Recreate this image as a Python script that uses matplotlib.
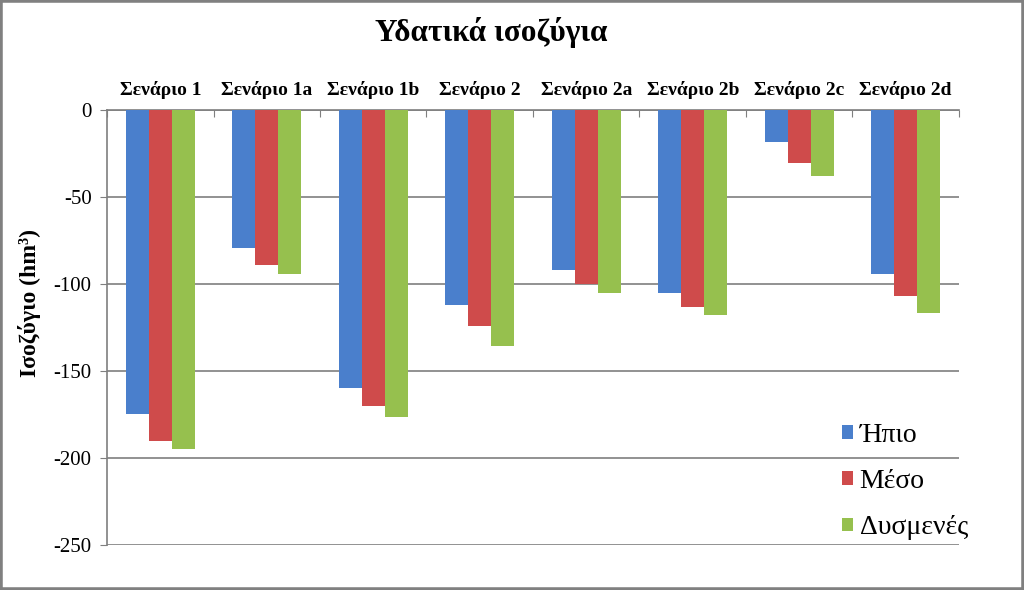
import numpy as np
import matplotlib
matplotlib.use("Agg")
from matplotlib import pyplot as plt
from matplotlib.patches import Rectangle

# data
scenarios = ["Σενάριο 1", "Σενάριο 1a", "Σενάριο 1b", "Σενάριο 2",
             "Σενάριο 2a", "Σενάριο 2b", "Σενάριο 2c", "Σενάριο 2d"]
hpio = [-175, -79.5, -160, -112, -92, -105, -18.5, -94]
meso = [-190, -89, -170, -124, -100, -113.5, -30.5, -107]
dysmenes = [-195, -94, -176.5, -135.5, -105, -118, -38, -116.5]
series_names = ["Ήπιο", "Μέσο", "Δυσμενές"]
yticks = [0, -50, -100, -150, -200, -250]

plt.rcParams["font.family"] = ["Liberation Serif", "DejaVu Serif"]

fig = plt.figure(figsize=(10.24, 5.9), dpi=100)
ax = fig.add_axes([0.1045, 0.0763, 0.832, 0.7373])

x = np.arange(len(scenarios))
w = 0.217
colors = ["#4a7fcc", "#cf4b4b", "#96c04e"]
for i, vals in enumerate([hpio, meso, dysmenes]):
    ax.bar(x + (i - 1) * w, vals, w, color=colors[i], label=series_names[i], zorder=3)

ax.set_xlim(-0.5, len(scenarios) - 0.5)
ax.set_ylim(-250, 0)
ax.set_yticks(yticks)
ax.set_yticklabels([str(t) for t in yticks], fontsize=15)
ax.yaxis.grid(True, color="#7f7f7f", linewidth=1.2, zorder=0)
ax.tick_params(axis="y", length=5, color="#7f7f7f", pad=6)

ax.xaxis.tick_top()
ax.set_xticks(np.arange(len(scenarios) + 1) - 0.5)
ax.set_xticklabels([])
ax.tick_params(axis="x", which="major", direction="in", length=5, color="#7f7f7f")
ax.set_xticks(x, minor=True)
ax.set_xticklabels(scenarios, minor=True, fontsize=14, fontweight="bold")
ax.tick_params(axis="x", which="minor", length=0, pad=8)

for s in ["right", "bottom"]:
    ax.spines[s].set_visible(False)
ax.spines["left"].set_color("#7f7f7f")
ax.spines["top"].set_color("#7f7f7f")
ax.spines["left"].set_linewidth(1.2)
ax.spines["top"].set_linewidth(1.2)

ax.set_ylabel("Ισοζύγιο (hm³)", fontsize=17, fontweight="bold")
ax.yaxis.set_label_coords(-0.078, 0.556)

fig.text(0.48, 0.945, "Υδατικά ισοζύγια", ha="center", va="center",
         fontsize=22.5, fontweight="bold")

leg = fig.legend(loc="upper left", bbox_to_anchor=(0.798, 0.326), fontsize=20,
                 frameon=False, handlelength=0.38, handleheight=0.38,
                 handletextpad=0.25, labelspacing=0.77)

fig.patches.append(Rectangle((0, 0), 1, 1, transform=fig.transFigure, fill=False,
                             edgecolor="#808080", linewidth=4))

plt.savefig("out.png", dpi=100)
